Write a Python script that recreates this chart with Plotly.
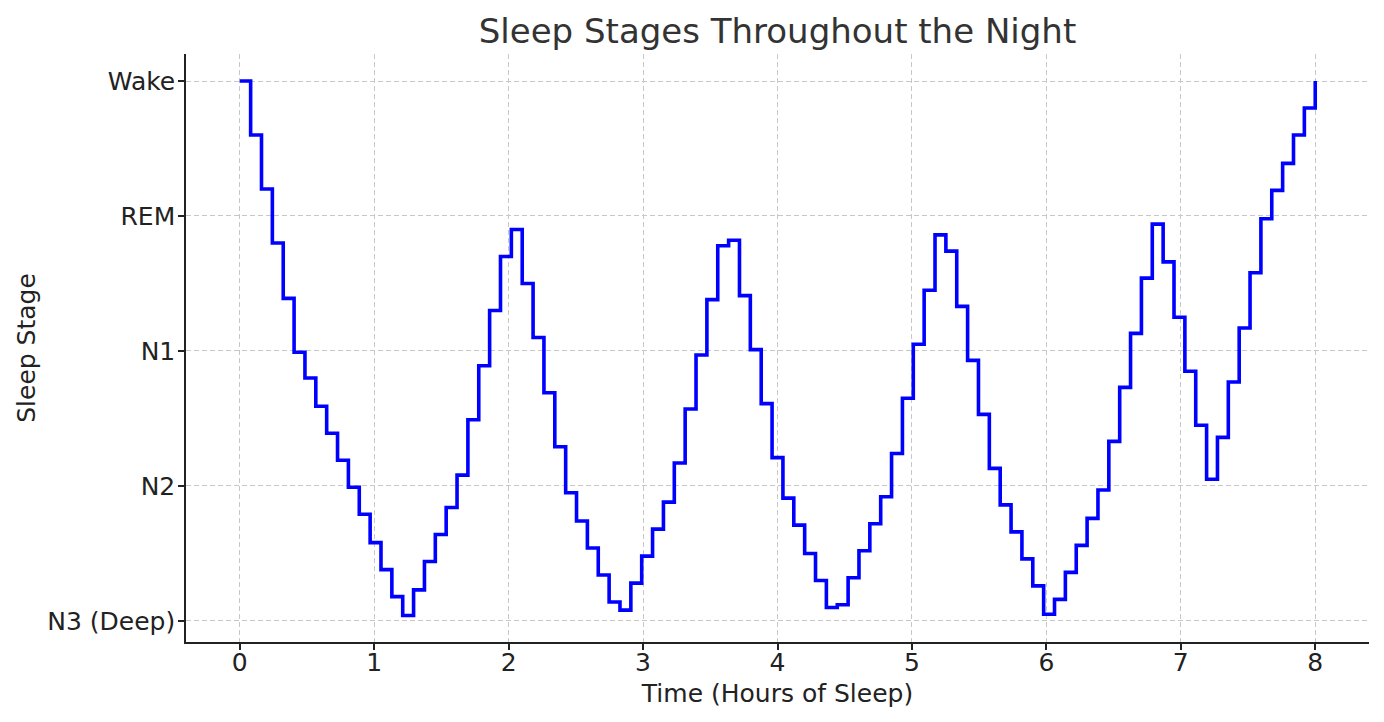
import numpy as np
import plotly.graph_objects as go

# time axis: 100 samples over 8 hours of sleep
hours = np.linspace(0, 8, 100)

# stage level at each sample (0 = N3 ... 4 = Wake)
stage = [4.00, 3.60, 3.20, 2.80, 2.39, 1.99, 1.80, 1.59, 1.39, 1.19,
         0.99, 0.79, 0.58, 0.38, 0.18, 0.04, 0.23, 0.44, 0.64, 0.84,
         1.08, 1.49, 1.89, 2.30, 2.70, 2.90, 2.50, 2.10, 1.69, 1.29,
         0.95, 0.74, 0.54, 0.34, 0.14, 0.08, 0.28, 0.48, 0.68, 0.88,
         1.17, 1.57, 1.97, 2.38, 2.78, 2.82, 2.41, 2.01, 1.61, 1.21,
         0.91, 0.71, 0.50, 0.30, 0.10, 0.12, 0.32, 0.52, 0.72, 0.92,
         1.24, 1.65, 2.05, 2.45, 2.86, 2.74, 2.33, 1.93, 1.53, 1.13,
         0.86, 0.66, 0.46, 0.26, 0.05, 0.16, 0.36, 0.56, 0.76, 0.97,
         1.33, 1.73, 2.13, 2.54, 2.94, 2.66, 2.25, 1.85, 1.45, 1.05,
         1.36, 1.77, 2.17, 2.58, 2.98, 3.19, 3.39, 3.60, 3.80, 4.00]

stage_ticks = [0, 1, 2, 3, 4]
stage_names = ['N3 (Deep)', 'N2', 'N1', 'REM', 'Wake']
hour_ticks = [0, 1, 2, 3, 4, 5, 6, 7, 8]

txt = '#222222'
grid = '#c8c8c8'

fig = go.Figure(go.Scatter(
    x=hours, y=stage, mode='lines', line_shape='hv',
    line=dict(color='#0000ff', width=3.6), hoverinfo='skip'))

fig.update_layout(
    width=1384, height=722,
    margin=dict(l=186, r=15, t=54, b=80),
    paper_bgcolor='white', plot_bgcolor='white',
    font=dict(family='DejaVu Sans', size=25, color=txt),
    showlegend=False,
    title=dict(text='Sleep Stages Throughout the Night',
               font=dict(size=34, color='#333333'),
               x=0.5, xref='paper', xanchor='center',
               y=1 - 31 / 722, yref='container', yanchor='middle'),
)

fig.update_xaxes(
    range=[-0.4, 8.4], tickvals=hour_ticks,
    title=dict(text='Time (Hours of Sleep)', standoff=9, font=dict(size=25)),
    showline=True, linecolor=txt, linewidth=1.5, mirror=False,
    ticks='outside', ticklen=6, tickwidth=1.5, tickcolor=txt,
    tickfont=dict(size=25), ticklabelstandoff=-9,
    showgrid=True, gridcolor=grid, gridwidth=1, griddash='5px,3px',
    zeroline=False)

fig.update_yaxes(
    range=[-0.156, 4.2], tickvals=stage_ticks, ticktext=stage_names,
    title=dict(text='Sleep Stage', standoff=5, font=dict(size=25)),
    showline=True, linecolor=txt, linewidth=1.5, mirror=False,
    ticks='outside', ticklen=6, tickwidth=1.5, tickcolor=txt,
    tickfont=dict(size=25), ticklabelstandoff=-2,
    showgrid=True, gridcolor=grid, gridwidth=1, griddash='5px,3px',
    zeroline=False)

# drop the default page margin so the figure sits at the window corner
fig.write_html('out.html', config={'displayModeBar': False},
               post_script="document.body.style.margin='0px';")
